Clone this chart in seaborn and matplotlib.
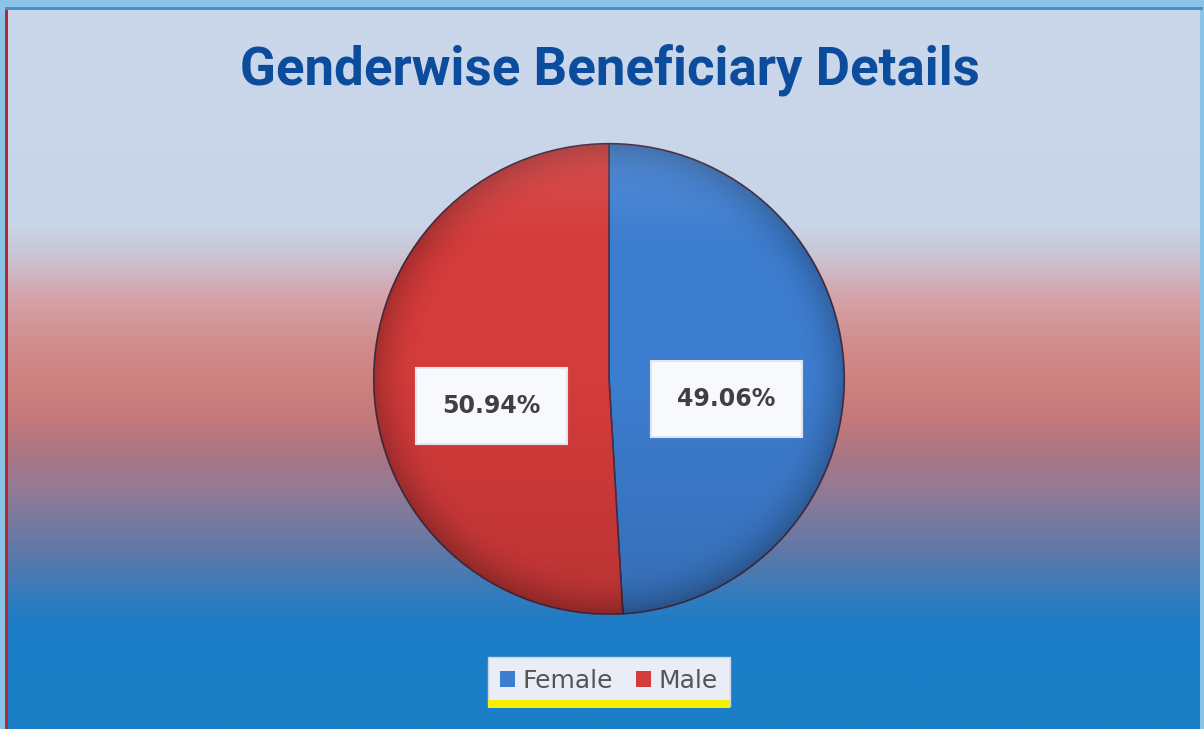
import numpy as np
import matplotlib
matplotlib.use("Agg")
import matplotlib.pyplot as plt
from matplotlib.colors import LinearSegmentedColormap
from matplotlib.patches import Circle, Rectangle, Patch
import seaborn as sns

sns.set_theme(style="white")
plt.rcParams['font.family'] = ['DejaVu Sans']

# data
genders = ['Female', 'Male']
shares = [49.06, 50.94]
colors = ['#3d7dcf', '#d43b3b']
title = 'Genderwise Beneficiary Details'

fig = plt.figure(figsize=(12.04, 7.29), dpi=100)
fig.patch.set_facecolor('#8cc4e8')

# background panel with vertical gradient
bg = fig.add_axes([8 / 1204, 0, 1 - 12 / 1204, 1 - 9 / 729])
bg_cmap = LinearSegmentedColormap.from_list('bg', [
    (0.00, '#cbd8ec'), (0.30, '#c8d5e8'), (0.34, '#c9c6d3'), (0.40, '#d5a3aa'),
    (0.47, '#d18b8a'), (0.52, '#cd8280'), (0.57, '#c47a7a'), (0.62, '#aa7684'),
    (0.67, '#927b94'), (0.71, '#7a7a9e'), (0.76, '#5c78aa'), (0.82, '#307cc0'),
    (0.86, '#1b7dc6'), (1.00, '#1a7fc6')])
grad = np.linspace(0, 1, 512).reshape(-1, 1)
bg.imshow(grad, aspect='auto', cmap=bg_cmap, extent=[0, 1, 0, 1], origin='upper')
bg.set_axis_off()
# thin border on left and top
fig.add_artist(Rectangle((5 / 1204, 0), 3 / 1204, 1 - 8 / 729, transform=fig.transFigure,
                         color='#b02a30', lw=0))
fig.add_artist(Rectangle((5 / 1204, 1 - 10 / 729), 1 - 6 / 1204, 3 / 729, transform=fig.transFigure,
                         color='#4a8fc8', lw=0))

fig.text(0.507, 0.905, title, ha='center', va='center', fontsize=38, fontweight='bold',
         color='#0b4c9c', family=['Roboto', 'DejaVu Sans'])

# pie
ax = fig.add_axes([(609 - 240) / 1204, (729 - 379 - 240) / 729, 480 / 1204, 480 / 729])
wedges, texts, autotexts = ax.pie(
    shares, colors=colors, startangle=90, counterclock=False, radius=1,
    autopct='%.2f%%', pctdistance=0.5,
    wedgeprops=dict(edgecolor='#4a3048', linewidth=1.2),
    textprops=dict(fontsize=17, fontweight='semibold', color='#404040'))
for t in autotexts:
    x, y = t.get_position()
    t.set_position((x, y - 0.1))
    t.set_bbox(dict(boxstyle='square,pad=1.1', facecolor='#f7f9fd', edgecolor='#dfe6f2', linewidth=1.5))
    t.set_zorder(5)

# shading overlay for a slightly 3d look
yy, xx = np.mgrid[-1:1:400j, -1:1:400j]
rr = np.sqrt(xx ** 2 + yy ** 2)
shade = np.zeros((400, 400, 4))
shade[..., 3] = np.clip((rr - 0.8) / 0.2, 0, 1) ** 2 * 0.22 + np.clip(-yy, 0, 1) * 0.12
im = ax.imshow(shade, extent=[-1, 1, -1, 1], origin='lower', zorder=2)
im.set_clip_path(Circle((0, 0), 1, transform=ax.transData))
hl = np.zeros((400, 400, 4))
hl[..., :3] = 1
hl[..., 3] = np.clip(yy - 0.55, 0, 1) * 0.25
im2 = ax.imshow(hl, extent=[-1, 1, -1, 1], origin='lower', zorder=2)
im2.set_clip_path(Circle((0, 0), 1, transform=ax.transData))
ax.set_xlim(-1.02, 1.02)
ax.set_ylim(-1.02, 1.02)
ax.set_aspect('equal')
ax.set_axis_off()

handles = [Patch(facecolor=c, edgecolor='none') for c in colors]
leg = fig.legend(handles, genders, loc='center', bbox_to_anchor=(609 / 1204, 1 - 681 / 729),
                 ncol=2, fontsize=18, frameon=True, fancybox=False, handlelength=0.6,
                 handleheight=0.6, handletextpad=0.3, columnspacing=0.9, borderpad=0.5,
                 borderaxespad=0)
frame = leg.get_frame()
frame.set_facecolor('#e9eef6')
frame.set_edgecolor('#c9d3e3')
frame.set_alpha(1)
for t in leg.get_texts():
    t.set_color('#555555')

fig.canvas.draw()
bb = leg.get_window_extent().transformed(fig.transFigure.inverted())
fig.add_artist(Rectangle((bb.x0, bb.y0 - 0.004), bb.width, 0.012, transform=fig.transFigure,
                         color='#f4f000', lw=0, zorder=10))

fig.savefig('out.png', dpi=100)
